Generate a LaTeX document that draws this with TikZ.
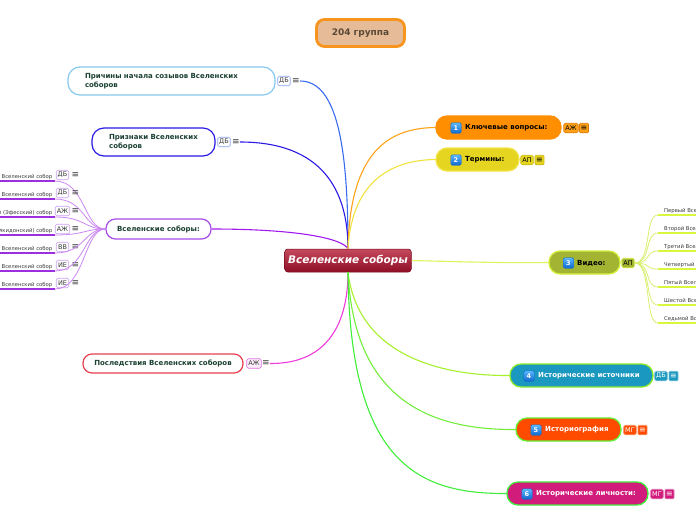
\documentclass[tikz,border=0pt]{standalone}
\usepackage{fontspec}
\setmainfont{DejaVu Sans}
\definecolor{lgreen}{HTML}{1A4030}
\definecolor{gray3}{HTML}{3A3A3A}
\definecolor{cPr}{HTML}{3A6CF0}
\definecolor{cPrB}{HTML}{86C8EE}
\definecolor{cPz}{HTML}{2B1AE6}
\definecolor{cVs}{HTML}{A21AF0}
\definecolor{cVsB}{HTML}{A64CE8}
\definecolor{cPos}{HTML}{F03CDC}
\definecolor{cPosB}{HTML}{E84050}
\definecolor{cK}{HTML}{FFA31A}
\definecolor{cT}{HTML}{F2E23C}
\definecolor{cVid}{HTML}{DCF55A}
\definecolor{cF}{HTML}{A6F02C}
\definecolor{cFi}{HTML}{72EE3A}
\definecolor{cS}{HTML}{40EE3A}
\definecolor{fK}{HTML}{FF8F00}
\definecolor{fKt}{HTML}{FFA21A}
\definecolor{fKb}{HTML}{E07800}
\definecolor{fT}{HTML}{E6D520}
\definecolor{fTb}{HTML}{F2E54A}
\definecolor{fTt}{HTML}{C8B810}
\definecolor{fV}{HTML}{A2B431}
\definecolor{fVb}{HTML}{D4F03C}
\definecolor{fF}{HTML}{1A98BF}
\definecolor{fFb}{HTML}{8EEB2A}
\definecolor{fFi}{HTML}{FF4B00}
\definecolor{fFib}{HTML}{66EE33}
\definecolor{fS}{HTML}{D21C7C}
\definecolor{badgeT}{HTML}{5AB6FF}
\definecolor{badgeB}{HTML}{1068CC}
\definecolor{grpF}{HTML}{E6BC98}
\definecolor{grpB}{HTML}{F7941D}
\definecolor{grpT}{HTML}{5A4836}
\definecolor{cenT}{HTML}{C54A5E}
\definecolor{cenB}{HTML}{8E0E25}
\definecolor{cenD}{HTML}{7A0A1E}
\definecolor{lsub}{HTML}{CC88F2}
\definecolor{lund}{HTML}{9B30E0}
\definecolor{ltag}{HTML}{C8A0F0}
\definecolor{rsub}{HTML}{D8F070}
\definecolor{rund}{HTML}{D8F840}
\definecolor{tagblue}{HTML}{8AA4F0}
\definecolor{tagpink}{HTML}{E070E0}
\begin{document}
\begin{tikzpicture}[x=1pt,y=-1pt,
  wbox/.style={draw, fill=white, line width=1.2pt, text=lgreen,
    font=\bfseries\fontsize{7}{8.6}\selectfont},
  pill/.style={rounded corners=11pt, minimum height=23pt, inner sep=0pt, line width=1.3pt},
  ptext/.style={anchor=west, inner sep=0pt, font=\bfseries\fontsize{7}{8}\selectfont},
  badge/.style={draw=badgeB, line width=0.4pt, rounded corners=1.5pt, top color=badgeT,
    bottom color=badgeB, minimum size=10.5pt, inner sep=0pt, text=white,
    font=\bfseries\fontsize{6.5}{7}\selectfont},
  tag/.style={draw, rounded corners=1.5pt, inner xsep=1.5pt, inner ysep=0.8pt,
    minimum height=9.5pt, minimum width=12.5pt, line width=0.6pt, font=\fontsize{6.5}{7}\selectfont},
  menu/.style={inner sep=0pt, text=gray3, font=\fontsize{9}{9}\selectfont},
  rmenu/.style={draw, rounded corners=1pt, inner xsep=1pt, inner ysep=0.5pt,
    minimum height=9.5pt, minimum width=9pt, line width=0.6pt, font=\fontsize{8}{8}\selectfont},
  conn/.style={line width=1.1pt},
  subl/.style={anchor=south east, inner xsep=2.5pt, inner ysep=1.6pt, text=gray3,
    font=\fontsize{5.3}{6}\selectfont},
  subr/.style={anchor=south west, inner xsep=6pt, inner ysep=1.6pt, text=gray3,
    font=\fontsize{5.3}{6}\selectfont}]
\useasboundingbox (0,0) rectangle (696,520);
\clip (0,0) rectangle (696,520);
\fill[white] (0,0) rectangle (696,520);

% group title
\node[draw=grpB, fill=grpF, line width=2.8pt, rounded corners=8pt, minimum width=88pt,
  minimum height=27pt, text=grpT, font=\bfseries\fontsize{9}{10}\selectfont] (grp) at (360.5,33) {204 группа};

% central
\node[draw=cenD, line width=0.5pt, rounded corners=3pt, top color=cenT,
  bottom color=cenB, minimum width=126pt, minimum height=23pt,
  text=white, font=\bfseries\itshape\fontsize{10.5}{12}\selectfont] (cen) at (348,260.5) {Вселенские соборы};

% left main nodes
\node[wbox, draw=cPrB, minimum width=207pt, minimum height=28pt, text width=173pt,
  inner xsep=17pt, align=left, rounded corners=12pt] (pr) at (171.5,81) {Причины начала созывов Вселенских\\соборов};
\node[tag, draw=tagblue, fill=white, text=gray3] (prt) at (284,81) {ДБ};
\node[menu] (prm) at (296,81) {≡};

\node[wbox, draw=cPz, minimum width=123pt, minimum height=28pt, align=left,
  rounded corners=12pt] (pz) at (153.5,142) {Признаки Вселенских\\соборов};
\node[tag, draw=tagblue, fill=white, text=gray3] (pzt) at (224,142) {ДБ};
\node[menu] (pzm) at (236,142) {≡};

\node[wbox, draw=cVsB, minimum width=105pt, minimum height=20pt, rounded corners=9.5pt] (vs) at (158.5,229) {Вселенские соборы:};

\node[wbox, draw=cPosB, minimum width=160pt, minimum height=19pt, rounded corners=9pt] (pos) at (163,363.5) {Последствия Вселенских соборов};
\node[tag, draw=tagpink, fill=tagpink!12, text=gray3] (post) at (254,363.5) {АЖ};
\node[menu] (posm) at (266,363.5) {≡};

% left sub-items
\foreach \i/\y/\t/\g in {1/175/Первый Вселенский собор/ДБ, 2/193/Второй Вселенский собор/ДБ,
  3/211/Третий (Эфесский) собор/АЖ, 4/229/Четвертый (Халкидонский) собор/АЖ,
  5/247/Пятый Вселенский собор/ВВ, 6/265/Шестой Вселенский собор/ИЕ, 7/283/Седьмой Вселенский собор/ИЕ}{
  \node[subl] (ls\i) at (55,\y+6) {\t};
  \draw[lund, line width=1.5pt] (ls\i.south west) -- (ls\i.south east);
  \node[tag, draw=ltag, fill=white, text=gray3] (lst\i) at (62.5,\y) {\g};
  \node[menu] (lsm\i) at (75.5,\y) {≡};
  \draw[lsub, line width=0.8pt] (ls\i.south east) .. controls (85,\y+6) and (84,229) .. (vs.west);
}

% right main nodes
\node[pill, fill=fK, draw=fK, minimum width=125pt] (k1) at (498.5,127.5) {};
\node[badge] (k1b) at (456,128) {1};
\node[ptext, text=black] (k1x) at (465,128) {Ключевые вопросы:};
\node[tag, fill=fKt, draw=fKb, text=black] (k1t) at (571,128) {АЖ};
\node[rmenu, fill=fKt, draw=fKb, text=black] (k1m) at (584,128) {≡};

\node[pill, fill=fT, draw=fTb, minimum width=83pt] (t2) at (477.5,159.5) {};
\node[badge] (t2b) at (456,160) {2};
\node[ptext, text=black] (t2x) at (465,160) {Термины:};
\node[tag, fill=fT, draw=fTt, text=black] (t2t) at (527,160) {АП};
\node[rmenu, fill=fT, draw=fTt, text=black] (t2m) at (539.5,160) {≡};

\node[pill, fill=fV, draw=fVb, minimum width=71pt] (v3) at (584.5,262.5) {};
\node[badge] (v3b) at (568.5,263) {3};
\node[ptext, text=black] (v3x) at (577,263) {Видео:};
\node[tag, fill=fV, draw=fVb, text=black] (v3t) at (628,263) {АП};

\node[pill, fill=fF, draw=fFb, minimum width=143pt] (f4) at (581.5,375.5) {};
\node[badge] (f4b) at (529,376) {4};
\node[ptext, text=white] (f4x) at (538,376) {Исторические источники};
\node[tag, fill=fF, draw=fF!60!white, text=white] (f4t) at (661,376) {ДБ};
\node[rmenu, fill=fF, draw=fF!60!white, text=white] (f4m) at (673.5,376) {≡};

\node[pill, fill=fFi, draw=fFib, minimum width=105pt] (h5) at (568.5,429.5) {};
\node[badge] (h5b) at (536,430) {5};
\node[ptext, text=white] (h5x) at (545,430) {Историография};
\node[tag, fill=fFi, draw=fFi!60!white, text=white] (h5t) at (630,430) {МГ};
\node[rmenu, fill=fFi, draw=fFi!60!white, text=white] (h5m) at (642.5,430) {≡};

\node[pill, fill=fS, draw=cS, minimum width=141pt] (s6) at (577.5,493.5) {};
\node[badge] (s6b) at (527,494) {6};
\node[ptext, text=white] (s6x) at (536,494) {Исторические личности:};
\node[tag, fill=fS, draw=fS!60!white, text=white] (s6t) at (657,494) {МГ};
\node[rmenu, fill=fS, draw=fS!60!white, text=white] (s6m) at (669.5,494) {≡};

% right sub-items of Видео
\foreach \i/\y/\t in {1/209/Первый Вселенский собор, 2/227/Второй Вселенский собор,
  3/245/Третий Вселенский собор, 4/263/Четвертый Вселенский собор, 5/281/Пятый Вселенский собор,
  6/299/Шестой Вселенский собор, 7/317/Седьмой Вселенский собор}{
  \node[subr] (rs\i) at (658,\y+6) {\t};
  \draw[rund, line width=1.5pt] (rs\i.south west) -- ++(60,0);
  \draw[rsub, line width=0.8pt] (v3t.east) .. controls (652,263) and (644,\y+6) .. (rs\i.south west);
}

% connectors from centre
\draw[conn, cPr] (prm.east) .. controls (338,81) and (348,150) .. (cen.north);
\draw[conn, cPz] (pzm.east) .. controls (322,142) and (348,190) .. (cen.north);
\draw[conn, cVs] (vs.east) .. controls (295,229) and (342,238) .. (cen.north);
\draw[conn, cPos] (posm.east) .. controls (330,364) and (348,320) .. (cen.south);
\draw[conn, cK] (cen.north) .. controls (350,150) and (390,128) .. (k1.west);
\draw[conn, cT] (cen.north) .. controls (352,178) and (395,160) .. (t2.west);
\draw[conn, cVid] (cen.east) .. controls (470,262) and (500,263) .. (v3.west);
\draw[conn, cF] (cen.south) .. controls (358,355) and (440,376) .. (f4.west);
\draw[conn, cFi] (cen.south) .. controls (354,400) and (430,430) .. (h5.west);
\draw[conn, cS] (cen.south) .. controls (350,465) and (420,494) .. (s6.west);
\end{tikzpicture}
\end{document}
